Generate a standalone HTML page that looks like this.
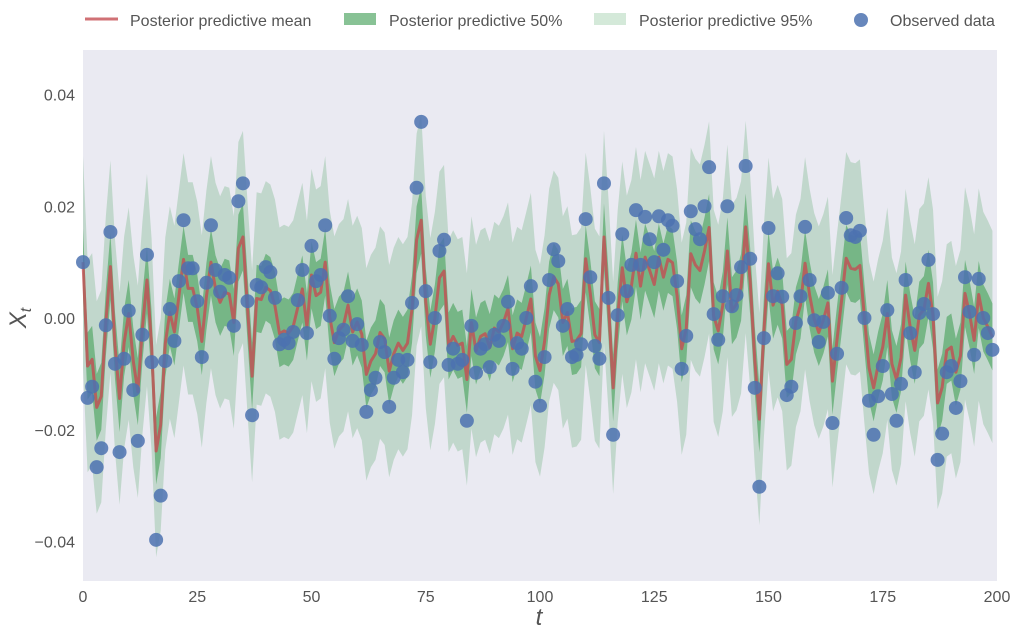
<!DOCTYPE html>
<html><head><meta charset="utf-8"><style>
body{margin:0;background:#fff;font-family:"Liberation Sans",sans-serif;}
svg{display:block}
text{font-family:"Liberation Sans",sans-serif;fill:#555;}
</style></head><body>
<svg id="chart" width="1017" height="636">
<rect x="83" y="50" width="914" height="531" fill="#eaeaf2"/>
<g id="bands"></g><g id="lines"></g><g id="points"></g><g id="axes"></g>
<g>
<line x1="85" y1="19" x2="118" y2="19" stroke="rgba(196,78,82,0.8)" stroke-width="3"/>
<text x="130" y="26" font-size="16">Posterior predictive mean</text>
<rect x="344" y="13" width="32" height="12" fill="rgba(85,168,104,0.7)"/>
<text x="389" y="26" font-size="16">Posterior predictive 50%</text>
<rect x="594" y="13" width="32" height="12" fill="rgba(85,168,104,0.25)"/>
<text x="639" y="26" font-size="16">Posterior predictive 95%</text>
<circle cx="861" cy="20" r="7" fill="rgba(76,114,176,0.85)"/>
<text x="890" y="26" font-size="16">Observed data</text>
</g>
<text x="539" y="625" font-size="24" font-style="italic" text-anchor="middle">t</text>
<text transform="translate(26,318) rotate(-90)" font-size="24" font-style="italic" text-anchor="middle">X<tspan font-size="16" dy="5">t</tspan></text>
</svg>
<script>
const obsMilli=[10.0,-14.3,-12.3,-26.7,-23.3,-1.3,15.4,-8.2,-24.0,-7.3,
1.3,-12.9,-22.0,-3.0,11.3,-7.9,-39.7,-31.8,-7.7,1.6,
-4.1,6.6,17.5,8.9,8.9,3.0,-7.0,6.3,16.6,8.6,
4.7,7.7,7.2,-1.4,20.9,24.1,3.0,-17.4,5.9,5.5,
9.1,8.2,3.6,-4.7,-3.9,-4.5,-2.5,3.2,8.6,-2.7,
12.9,6.6,7.7,16.6,0.4,-7.3,-3.6,-2.1,3.9,-4.1,
-1.1,-4.8,-16.8,-12.9,-10.7,-4.3,-6.1,-15.9,-10.7,-7.5,
-9.7,-7.5,2.7,23.3,35.1,4.8,-7.9,0.0,12.0,14.0,
-8.4,-5.5,-8.2,-7.5,-18.4,-1.4,-9.8,-5.5,-4.7,-8.8,
-3.0,-4.1,-1.4,2.9,-9.1,-4.5,-5.5,0.0,5.7,-11.4,
-15.7,-7.0,6.8,12.3,10.2,-1.4,1.6,-7.0,-6.6,-4.7,
17.7,7.3,-5.0,-7.3,24.1,3.6,-20.9,0.5,15.0,4.8,
9.5,19.3,9.5,18.1,14.1,10.0,18.2,12.2,17.5,16.5,
6.6,-9.1,-3.2,19.1,15.9,14.1,20.0,27.0,0.7,-3.9,
3.9,20.0,2.1,4.1,9.1,27.2,10.6,-12.5,-30.2,-3.6,
16.1,3.9,8.0,3.8,-13.8,-12.3,-0.9,3.9,16.3,6.8,
-0.4,-4.3,-0.7,4.5,-18.8,-6.4,5.4,17.9,14.8,14.5,
15.6,0.0,-14.8,-20.9,-14.0,-8.6,1.4,-13.6,-18.4,-11.8,
6.8,-2.7,-9.7,0.9,2.5,10.4,0.7,-25.4,-20.7,-9.7,
-8.6,-16.1,-11.3,7.3,1.1,-6.6,7.0,0.0,-2.7,-5.7];
const meanMilli=[10.0,-8.6,-7.4,-16.0,-14.0,-0.8,9.2,-4.9,-14.4,-4.4,
0.8,-7.7,-13.2,-1.8,6.8,-4.7,-23.8,-19.1,-4.6,1.0,
-2.5,4.0,10.5,5.3,5.3,1.8,-4.2,3.8,10.0,5.2,
2.8,4.6,4.3,-0.8,12.5,14.5,1.8,-10.4,3.5,3.3,
5.5,4.9,2.2,-2.8,-2.3,-2.7,-1.5,1.9,5.2,-1.6,
7.7,4.0,4.6,10.0,0.2,-4.4,-2.2,-1.3,2.3,-2.5,
-0.7,-2.9,-10.1,-7.7,-6.4,-2.6,-3.7,-9.5,-6.4,-4.5,
-5.8,-4.5,1.6,14.0,17.5,2.9,-4.7,0.0,7.2,8.4,
-5.0,-3.3,-4.9,-4.5,-11.0,-0.8,-5.9,-3.3,-2.8,-5.3,
-1.8,-2.5,-0.8,1.7,-5.5,-2.7,-3.3,0.0,3.4,-6.8,
-9.4,-4.2,4.1,7.4,6.1,-0.8,1.0,-4.2,-4.0,-2.8,
10.6,4.4,-3.0,-4.4,14.5,2.2,-12.5,0.3,9.0,2.9,
5.7,11.6,5.7,10.9,8.5,6.0,10.9,7.3,10.5,9.9,
4.0,-5.5,-1.9,11.5,9.5,8.5,12.0,16.2,0.4,-2.3,
2.3,12.0,1.3,2.5,5.5,16.3,6.4,-7.5,-18.1,-2.2,
9.7,2.3,4.8,2.3,-8.3,-7.4,-0.5,2.3,9.8,4.1,
-0.2,-2.6,-0.4,2.7,-11.3,-3.8,3.2,10.7,8.9,8.7,
9.4,0.0,-8.9,-12.5,-8.4,-5.2,0.8,-8.2,-11.0,-7.1,
4.1,-1.6,-5.8,0.5,1.5,6.2,0.4,-15.2,-12.4,-5.8,
-5.2,-9.7,-6.8,4.4,0.7,-4.0,4.2,0.0,-1.6,-3.4];
const halfWidth50=6;
const halfWidth95=19;
const xTicks=[0,25,50,75,100,125,150,175,200];
const yTicks=[-0.04,-0.02,0.00,0.02,0.04];
const yTickLabels=["\u22120.04","\u22120.02","0.00","0.02","0.04"];

const NS="http://www.w3.org/2000/svg";
const X=t=>83+t*(914/200);
const Y=v=>318-v*5.5875; // v in milli-units
function mk(tag,attrs,parent){const e=document.createElementNS(NS,tag);for(const k in attrs)e.setAttribute(k,attrs[k]);parent.appendChild(e);return e;}
function band(hw,fill,name){
  let up=[],dn=[];
  meanMilli.forEach((m,i)=>{up.push(X(i)+","+Y(m+hw));dn.unshift(X(i)+","+Y(m-hw));});
  const p=mk('polygon',{points:up.concat(dn).join(' '),fill:fill},document.getElementById('bands'));
  
  
}
band(halfWidth95,'rgba(85,168,104,0.27)','band-95');
band(halfWidth50,'rgba(85,168,104,0.7)','band-50');
const ml=mk('polyline',{points:meanMilli.map((m,i)=>X(i)+","+Y(m)).join(' '),fill:'none',stroke:'rgba(196,78,82,0.8)','stroke-width':3,'stroke-linejoin':'round'},document.getElementById('lines'));


obsMilli.forEach((v,i)=>{
  const c=mk('circle',{cx:X(i),cy:Y(v),r:7,fill:'rgba(76,114,176,0.85)'},document.getElementById('points'));
  
  
});
const ax=document.getElementById('axes');
xTicks.forEach(t=>{
  const e=mk('text',{x:X(t),y:602,'font-size':16,'text-anchor':'middle'},ax);e.textContent=String(t);
  
  
});
yTicks.forEach((v,i)=>{
  const e=mk('text',{x:75,y:Y(v*1000)+6,'font-size':16,'text-anchor':'end'},ax);e.textContent=yTickLabels[i];
  
  
});
</script>
</body></html>
